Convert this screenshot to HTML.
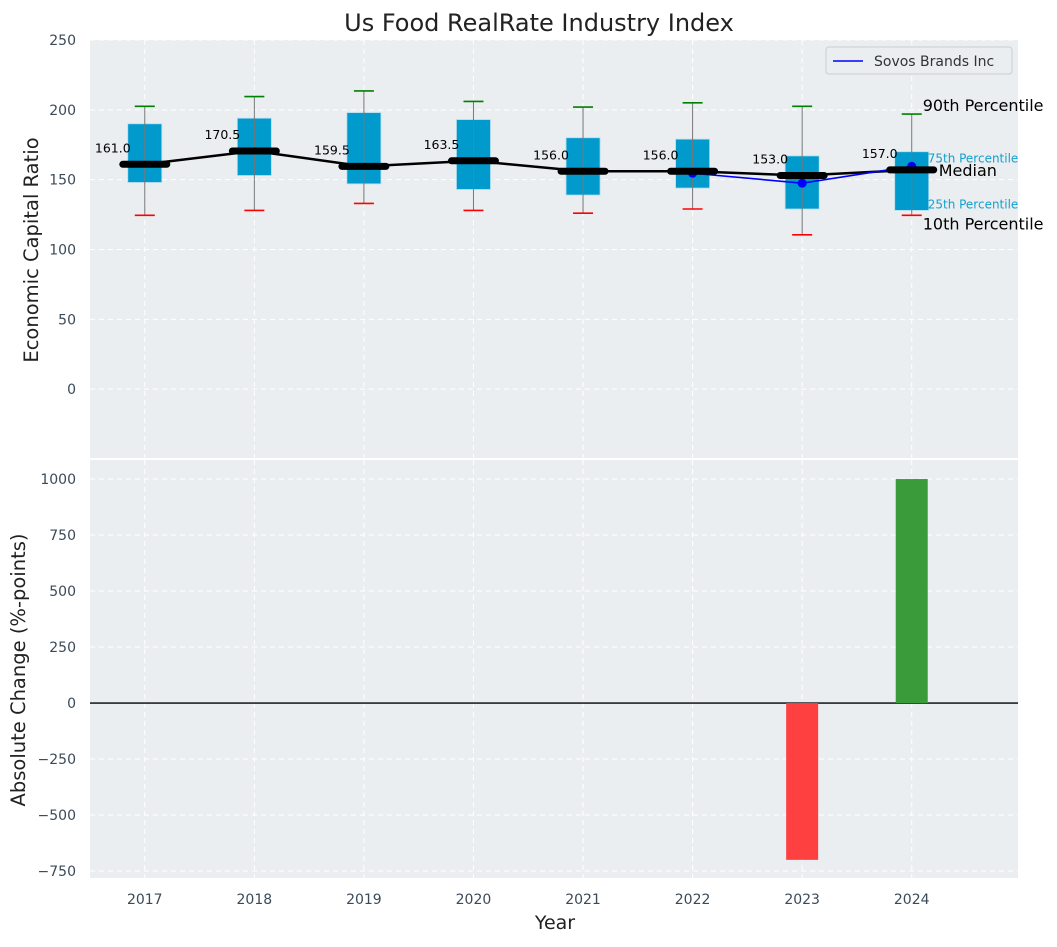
<!DOCTYPE html>
<html><head><meta charset="utf-8"><style>
body{margin:0;background:#fff;font-family:"Liberation Sans","DejaVu Sans",sans-serif}
svg text{font-family:"DejaVu Sans","Liberation Sans",sans-serif}
</style></head><body>
<svg id="c" width="1057" height="942" xmlns="http://www.w3.org/2000/svg"></svg>
<script>
const years=[2017,2018,2019,2020,2021,2022,2023,2024];
const p10=[124.5,128,133,128,126,129,110.5,124.5];
const p25=[148,153,147,143,139,144,129,128];
const medians=[161,170.5,159.5,163.5,156,156,153,157];
const p75=[190,194,198,193,180,179,167,170];
const p90=[202.5,209.5,213.5,206,202,205,202.5,197];
const companyYears=[2022,2023,2024];
const companyVals=[154.6,147.5,159.6];
const changes=[0,0,0,0,0,0,-700,1000];
const topTicks=[0,50,100,150,200,250];
const botTicks=[-750,-500,-250,0,250,500,750,1000];

const svg=document.getElementById('c');
const NS='http://www.w3.org/2000/svg';
function el(tag,attrs,parent,text){const e=document.createElementNS(NS,tag);for(const k in attrs)e.setAttribute(k,attrs[k]);if(text!==undefined)e.textContent=text;(parent||svg).appendChild(e);return e;}
const L=90,R=1018;
const x=v=>L+(v-2016.5)/(2024.97-2016.5)*(R-L);
const yT=v=>40+(250-v)/300*419;
const yB=v=>460+(1085-v)/(1085+781)*418;

const bgT=el('rect',{x:L,y:40,width:R-L,height:418,fill:'#eaeef0'});

const bgB=el('rect',{x:L,y:460,width:R-L,height:418,fill:'#eaeef0'});


const grid=el('g',{stroke:'#fff','stroke-dasharray':'5,4','stroke-width':1});

years.forEach(yr=>{el('line',{x1:x(yr),x2:x(yr),y1:40,y2:458},grid);el('line',{x1:x(yr),x2:x(yr),y1:460,y2:878},grid);});
topTicks.forEach(t=>el('line',{x1:L,x2:R,y1:yT(t),y2:yT(t)},grid));
botTicks.forEach(t=>el('line',{x1:L,x2:R,y1:yB(t),y2:yB(t)},grid));

const tl=el('g',{fill:'#3b4a5a','font-size':14});

topTicks.forEach(t=>el('text',{x:76,y:yT(t)+5,'text-anchor':'end'},tl,t));
botTicks.forEach(t=>el('text',{x:76,y:yB(t)+5,'text-anchor':'end'},tl,t==0?'0':(t<0?'\u2212'+(-t):t)));
years.forEach(yr=>el('text',{x:x(yr),y:904,'text-anchor':'middle'},tl,yr));

years.forEach((yr,i)=>{
 const g=el('g',{});
 
 const cx=x(yr);
 el('rect',{x:cx-17,y:yT(p75[i]),width:34,height:yT(p25[i])-yT(p75[i]),fill:'#009acd',stroke:'#b0dcee','stroke-width':0.8},g);
 el('line',{x1:cx,x2:cx,y1:yT(p90[i]),y2:yT(p10[i]),stroke:'#777','stroke-width':1},g);
 el('line',{x1:cx-10,x2:cx+10,y1:yT(p90[i]),y2:yT(p90[i]),stroke:'green','stroke-width':1.6},g);
 el('line',{x1:cx-10,x2:cx+10,y1:yT(p10[i]),y2:yT(p10[i]),stroke:'red','stroke-width':1.6},g);
 el('text',{x:cx-32,y:yT(medians[i])-12,'text-anchor':'middle','font-size':12.5,fill:'#000'},g,medians[i].toFixed(1));
});
const ml=el('polyline',{points:years.map((yr,i)=>x(yr)+','+yT(medians[i])).join(' '),fill:'none',stroke:'#000','stroke-width':2.5});

const cl=el('polyline',{points:companyYears.map((yr,i)=>x(yr)+','+yT(companyVals[i])).join(' '),fill:'none',stroke:'#0000ff','stroke-width':1.6});

companyYears.forEach((yr,i)=>{const d=el('circle',{cx:x(yr),cy:yT(companyVals[i]),r:4.5,fill:'#0000ff'});
 });
years.forEach((yr,i)=>{const m=el('line',{x1:x(yr)-22,x2:x(yr)+22,y1:yT(medians[i]),y2:yT(medians[i]),stroke:'#000','stroke-width':7,'stroke-linecap':'round'});
 });

const an=el('g',{});

const lx=x(2024);
el('text',{x:lx+11,y:yT(p90[7])-3,'font-size':16,fill:'#000'},an,'90th Percentile');
el('text',{x:lx+16,y:yT(p75[7])+11,'font-size':12,fill:'#14a0cf'},an,'75th Percentile');
el('text',{x:lx+27,y:yT(medians[7])+6,'font-size':16,fill:'#000'},an,'Median');
el('text',{x:lx+16,y:yT(p25[7])-2,'font-size':12,fill:'#14a0cf'},an,'25th Percentile');
el('text',{x:lx+11,y:yT(p10[7])+14,'font-size':16,fill:'#000'},an,'10th Percentile');

const lg=el('g',{});

el('rect',{x:826,y:47,width:186,height:27,rx:3,fill:'#eaeef0',stroke:'#ccc'},lg);
el('line',{x1:833,x2:863,y1:61,y2:61,stroke:'#0000ff','stroke-width':1.6},lg);
el('text',{x:874,y:66,'font-size':14,fill:'#333'},lg,'Sovos Brands Inc');

const zl=el('line',{x1:L,x2:R,y1:yB(0),y2:yB(0),stroke:'#000','stroke-width':1.3});

years.forEach((yr,i)=>{if(!changes[i])return;const v=changes[i];
 const b=el('rect',{x:x(yr)-16,y:Math.min(yB(0),yB(v)),width:32,height:Math.abs(yB(v)-yB(0)),fill:v<0?'#ff4040':'#3a9b3a'});
 });

const t=el('text',{x:539,y:31,'text-anchor':'middle','font-size':24,fill:'#222'},svg,'Us Food RealRate Industry Index');

const y1=el('text',{x:38,y:250,'text-anchor':'middle','font-size':19.5,fill:'#222',transform:'rotate(-90 38 250)'},svg,'Economic Capital Ratio');

const y2=el('text',{x:25,y:670,'text-anchor':'middle','font-size':19.5,fill:'#222',transform:'rotate(-90 25 670)'},svg,'Absolute Change (%-points)');

const xt=el('text',{x:555,y:929,'text-anchor':'middle','font-size':19,fill:'#222'},svg,'Year');

</script>
</body></html>
